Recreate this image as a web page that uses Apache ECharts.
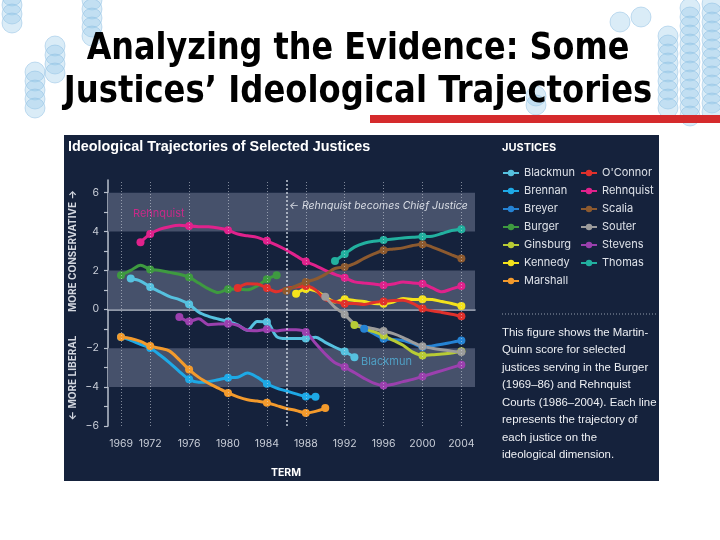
<!DOCTYPE html>
<html>
<head>
<meta charset="utf-8">
<script src="https://cdn.jsdelivr.net/npm/echarts@6/dist/echarts.min.js"></script>
<style>
html,body{margin:0;padding:0;background:#fff;}
#chart{width:720px;height:540px;}
</style>
</head>
<body>
<div id="chart"></div>
<script>
// ---------- data ----------
const xTicks = [1969, 1972, 1976, 1980, 1984, 1988, 1992, 1996, 2000, 2004];
const yTickValues = [-6, -5, -4, -3, -2, -1, 0, 1, 2, 3, 4, 5, 6];
const yLabelValues = [-6, -4, -2, 0, 2, 4, 6];
const chiefJusticeYear = 1986;

const blackmunStart = 1970;
const blackmun = [1.58, 1.45, 1.15, 0.9, 0.65, 0.5, 0.26, -0.15, -0.36, -0.5, -0.62, -0.8, -1.08, -0.62, -0.65, -1.4, -1.5, -1.5, -1.5, -1.43, -1.7, -1.95, -2.17, -2.46];
const brennanStart = 1969;
const brennan = [-1.42, -1.6, -1.8, -1.99, -2.35, -2.75, -3.2, -3.6, -3.75, -3.72, -3.62, -3.52, -3.49, -3.28, -3.49, -3.83, -4.05, -4.2, -4.35, -4.48, -4.5];
const breyerStart = 1994;
const breyer = [-1.0, -1.25, -1.51, -1.55, -1.6, -1.75, -1.94, -1.88, -1.8, -1.7, -1.6];
const burgerStart = 1969;
const burger = [1.75, 2.0, 2.27, 2.05, 2.0, 1.9, 1.8, 1.65, 1.35, 1.05, 0.86, 1.03, 1.05, 1.0, 1.2, 1.55, 1.75];
const ginsburgStart = 1993;
const ginsburg = [-0.8, -0.98, -1.15, -1.35, -1.6, -1.85, -2.2, -2.37, -2.33, -2.3, -2.25, -2.15];
const kennedyStart = 1987;
const kennedy = [0.8, 1.05, 0.95, 0.65, 0.38, 0.52, 0.45, 0.4, 0.3, 0.29, 0.38, 0.55, 0.5, 0.52, 0.5, 0.4, 0.3, 0.17];
const marshallStart = 1969;
const marshall = [-1.42, -1.5, -1.65, -1.89, -2.0, -2.15, -2.6, -3.1, -3.5, -3.8, -4.05, -4.3, -4.5, -4.65, -4.72, -4.8, -4.95, -5.1, -5.2, -5.33, -5.25, -5.08];
const oconnorStart = 1981;
const oconnor = [1.1, 1.32, 1.3, 1.1, 0.9, 1.07, 1.15, 1.2, 1.0, 0.5, 0.4, 0.29, 0.3, 0.25, 0.35, 0.4, 0.45, 0.47, 0.3, 0.04, -0.08, -0.16, -0.25, -0.36];
const rehnquistStart = 1971;
const rehnquist = [3.45, 3.87, 4.12, 4.25, 4.32, 4.28, 4.25, 4.24, 4.18, 4.07, 3.87, 3.78, 3.7, 3.52, 3.3, 3.05, 2.75, 2.46, 2.25, 2.0, 1.8, 1.62, 1.41, 1.35, 1.3, 1.24, 1.3, 1.41, 1.35, 1.32, 1.1, 0.9, 1.05, 1.2];
const scaliaStart = 1986;
const scalia = [0.95, 1.2, 1.41, 1.55, 1.8, 2.1, 2.18, 2.35, 2.62, 2.85, 3.04, 3.1, 3.16, 3.28, 3.35, 3.2, 3.0, 2.8, 2.61];
const souterStart = 1990;
const souter = [0.64, 0.1, -0.27, -0.74, -0.9, -1.0, -1.12, -1.25, -1.45, -1.7, -1.9, -2.0, -2.08, -2.15, -2.2];
const stevensStart = 1975;
const stevens = [-0.4, -0.62, -0.48, -0.79, -0.76, -0.74, -0.82, -1.08, -1.1, -1.03, -1.11, -1.05, -1.05, -1.17, -1.75, -2.3, -2.75, -2.97, -3.25, -3.55, -3.8, -3.92, -3.85, -3.72, -3.6, -3.45, -3.3, -3.15, -3.0, -2.85];
const thomasStart = 1991;
const thomas = [2.49, 2.84, 3.2, 3.4, 3.5, 3.56, 3.62, 3.67, 3.7, 3.74, 3.76, 3.9, 4.05, 4.12];

const legendLeft = ['Blackmun', 'Brennan', 'Breyer', 'Burger', 'Ginsburg', 'Kennedy', 'Marshall'];
const legendRight = ["O'Connor", 'Rehnquist', 'Scalia', 'Souter', 'Stevens', 'Thomas'];

// ---------- styling ----------
const colors = {
  'Blackmun': '#56c1df', 'Brennan': '#1ea9e6', 'Breyer': '#2583d4', 'Burger': '#3e9a40',
  'Ginsburg': '#b8cb35', 'Kennedy': '#f4e21c', 'Marshall': '#f39a2c', "O'Connor": '#e0312c',
  'Rehnquist': '#e0228c', 'Scalia': '#8d5a2f', 'Souter': '#9c9c9c', 'Stevens': '#9b40ae', 'Thomas': '#22b09f'
};
const justices = [
  ['Blackmun', blackmunStart, blackmun], ['Brennan', brennanStart, brennan], ['Breyer', breyerStart, breyer],
  ['Burger', burgerStart, burger], ['Ginsburg', ginsburgStart, ginsburg], ['Kennedy', kennedyStart, kennedy],
  ['Marshall', marshallStart, marshall], ["O'Connor", oconnorStart, oconnor], ['Rehnquist', rehnquistStart, rehnquist],
  ['Scalia', scaliaStart, scalia], ['Souter', souterStart, souter], ['Stevens', stevensStart, stevens],
  ['Thomas', thomasStart, thomas]
];

const NAVY = '#15223c';
const LABEL = '#c9ced8';
const SANS = 'Inter, "Liberation Sans", sans-serif';

const lineSeries = justices.map(([name, start, vals]) => ({
  name: name,
  type: 'line',
  z: 4,
  smooth: 0.3,
  symbol: 'circle',
  symbolSize: 8,
  showSymbol: true,
  lineStyle: { width: 3, color: colors[name] },
  itemStyle: { color: colors[name], borderWidth: 0 },
  emphasis: { disabled: true },
  data: vals.map((v, i) => {
    const yr = start + i;
    const mark = i === 0 || i === vals.length - 1 || xTicks.includes(yr);
    return mark ? { value: [yr, v] } : { value: [yr, v], symbol: 'none' };
  })
}));

const bandSeries = {
  name: 'bands', type: 'line', data: [], z: 1, silent: true,
  markArea: {
    silent: true,
    itemStyle: { color: '#46516b' },
    data: [[{ yAxis: 4 }, { yAxis: 6 }], [{ yAxis: 0 }, { yAxis: 2 }], [{ yAxis: -4 }, { yAxis: -2 }]]
  }
};
const gridSeries = {
  name: 'gridlines', type: 'line', data: [], z: 2, silent: true,
  markLine: {
    silent: true, symbol: ['none', 'none'], label: { show: false },
    lineStyle: { type: [1, 2], color: 'rgba(215,220,230,0.55)', width: 1 },
    data: xTicks.map(x => ({ xAxis: x })).concat([{
      xAxis: chiefJusticeYear,
      lineStyle: { type: [2, 2], color: 'rgba(225,230,240,0.85)', width: 1.5 }
    }])
  }
};

// decorative slide circles
const circleCols = [
  [12, -4, 4], [92, 0, 5], [55, 46, 4], [35, 72, 5],
  [620, 22, 1], [641, 17, 1], [536, 96, 2], [668, 36, 9], [690, 8, 13], [712, 4, 13]
];
const decor = [];
circleCols.forEach(([cx, y0, n]) => {
  for (let k = 0; k < n; k++) {
    decor.push({
      type: 'circle', z: -20, silent: true,
      shape: { cx: cx, cy: y0 + k * 9, r: 10 },
      style: { fill: 'rgba(150,200,232,0.35)', stroke: 'rgba(130,185,225,0.45)', lineWidth: 1 }
    });
  }
});

const legendText = { color: '#dde1e8', fontSize: 11, fontFamily: SANS, lineHeight: 14 };

const chart = echarts.init(document.getElementById('chart'), null, { renderer: 'canvas' });
chart.setOption({
  backgroundColor: '#ffffff',
  animation: false,
  title: [{
    text: 'Ideological Trajectories of Selected Justices',
    left: 63, top: 135,
    textStyle: { color: '#ffffff', fontSize: 14.4, fontWeight: 'bold', fontFamily: '"Liberation Sans", Arial, sans-serif' }
  }],
  legend: [{
    data: legendLeft, left: 497, top: 161, orient: 'vertical',
    itemWidth: 16, itemHeight: 8, itemGap: 4, selectedMode: false,
    textStyle: legendText
  }, {
    data: legendRight, left: 575, top: 161, orient: 'vertical',
    itemWidth: 16, itemHeight: 8, itemGap: 4, selectedMode: false,
    textStyle: legendText
  }],
  grid: { left: 108, top: 180, width: 367, height: 246, containLabel: false },
  xAxis: {
    type: 'value', min: 1967.66, max: 2005.4,
    axisLine: { show: true, lineStyle: { color: '#b9c0cc', width: 1.5 } },
    axisTick: { show: false },
    splitLine: { show: false },
    axisLabel: {
      customValues: xTicks, color: LABEL, fontSize: 10.5, fontFamily: SANS, margin: 12,
      formatter: v => String(v)
    }
  },
  yAxis: {
    type: 'value', min: -6, max: 6.65, interval: 1,
    axisLine: { show: true, lineStyle: { color: '#b9c0cc', width: 1.5 } },
    axisTick: { show: true, customValues: yTickValues, length: 4, lineStyle: { color: '#b9c0cc', width: 1.2 } },
    splitLine: { show: false },
    axisLabel: {
      customValues: yLabelValues, color: LABEL, fontSize: 10.5, fontFamily: SANS, margin: 9,
      formatter: v => (v < 0 ? '\u2212' + Math.abs(v) : String(v))
    }
  },
  series: [bandSeries, gridSeries].concat(lineSeries),
  graphic: decor.concat([
    { type: 'rect', z: -10, silent: true, shape: { x: 370, y: 115, width: 350, height: 8 }, style: { fill: '#d52a2c' } },
    { type: 'text', z: 5, x: 358, y: 49, scaleX: 0.84, silent: true,
      style: { text: 'Analyzing the Evidence: Some', fill: '#000', font: 'bold 38px "DejaVu Sans"', align: 'center', verticalAlign: 'middle' } },
    { type: 'text', z: 5, x: 358, y: 92, scaleX: 0.85, silent: true,
      style: { text: 'Justices\u2019 Ideological Trajectories', fill: '#000', font: 'bold 38px "DejaVu Sans"', align: 'center', verticalAlign: 'middle' } },
    { type: 'rect', z: -5, silent: true, shape: { x: 64, y: 135, width: 595, height: 346 }, style: { fill: NAVY } },
    { type: 'text', z: 5, x: 502, y: 148, silent: true,
      style: { text: 'JUSTICES', fill: '#ffffff', font: 'bold 11px Inter, "Liberation Sans", sans-serif', verticalAlign: 'middle' } },
    { type: 'line', z: 5, silent: true, shape: { x1: 502, y1: 314, x2: 656, y2: 314 },
      style: { stroke: 'rgba(200,206,218,0.7)', lineWidth: 1, lineDash: [1, 2] } },
    { type: 'text', z: 5, x: 502, y: 324, silent: true,
      style: {
        text: 'This figure shows the Martin-\nQuinn score for selected\njustices serving in the Burger\n(1969\u201386) and Rehnquist\nCourts (1986\u20132004). Each line\nrepresents the trajectory of\neach justice on the\nideological dimension.',
        fill: '#eef0f4', font: '500 11.4px "Liberation Sans", Arial, sans-serif', lineHeight: 17.5, verticalAlign: 'top'
      } },
    { type: 'text', z: 5, x: 286, y: 473, silent: true,
      style: { text: 'TERM', fill: '#ffffff', font: 'bold 10.5px Inter, "Liberation Sans", sans-serif', align: 'center', verticalAlign: 'middle' } },
    { type: 'text', z: 5, x: 73, y: 251, rotation: Math.PI / 2, silent: true,
      style: { text: 'MORE CONSERVATIVE \u2192', fill: '#d4d8e0', font: 'bold 10px Inter, "Liberation Sans", sans-serif', align: 'center', verticalAlign: 'middle' } },
    { type: 'text', z: 5, x: 73, y: 378, rotation: Math.PI / 2, silent: true,
      style: { text: '\u2190 MORE LIBERAL', fill: '#d4d8e0', font: 'bold 10px Inter, "Liberation Sans", sans-serif', align: 'center', verticalAlign: 'middle' } },
    { type: 'text', z: 6, x: 289, y: 206, silent: true,
      style: { text: '\u2190 Rehnquist becomes Chief Justice', fill: '#d8dce4', font: 'italic 10.5px Inter, "Liberation Sans", sans-serif', verticalAlign: 'middle' } },
    { type: 'text', z: 6, x: 133, y: 214, silent: true,
      style: { text: 'Rehnquist', fill: '#c72a89', font: '11px Inter, "Liberation Sans", sans-serif', verticalAlign: 'middle' } },
    { type: 'text', z: 6, x: 361, y: 362, silent: true,
      style: { text: 'Blackmun', fill: '#4f9fc4', font: '11px Inter, "Liberation Sans", sans-serif', verticalAlign: 'middle' } }
  ])
});
</script>
</body>
</html>
